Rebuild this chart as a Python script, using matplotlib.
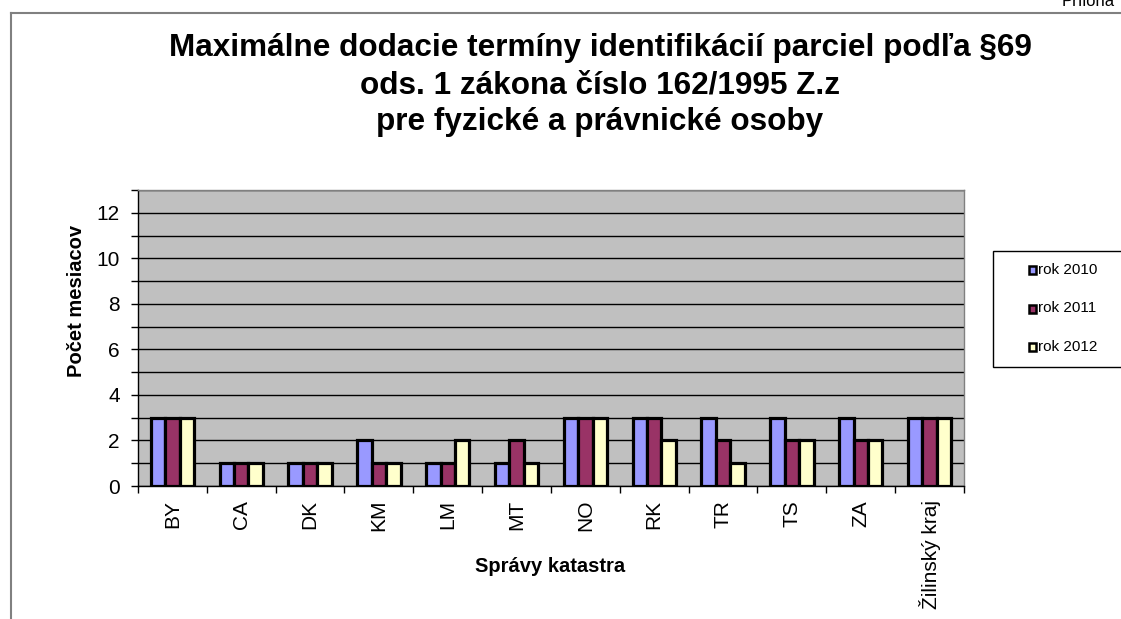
import matplotlib
matplotlib.use("Agg")
import matplotlib.pyplot as plt
import numpy as np
from matplotlib.patches import Rectangle
from matplotlib.lines import Line2D

plt.rcParams['font.family'] = ['Liberation Sans', 'DejaVu Sans']

categories = ["BY", "CA", "DK", "KM", "LM", "MT", "NO", "RK", "TR", "TS", "ZA", "Žilinský kraj"]
rok_2010 = [3, 1, 1, 2, 1, 1, 3, 3, 3, 3, 3, 3]
rok_2011 = [3, 1, 1, 1, 1, 2, 3, 3, 2, 2, 2, 3]
rok_2012 = [3, 1, 1, 1, 2, 1, 3, 2, 1, 2, 2, 3]
series_names = ["rok 2010", "rok 2011", "rok 2012"]
colors = ["#9999FF", "#993366", "#FFFFCC"]

title = "Maximálne dodacie termíny identifikácií parciel podľa §69\nods. 1 zákona číslo 162/1995 Z.z\npre fyzické a právnické osoby"

fig = plt.figure(figsize=(11.21, 6.19), dpi=100)
W, H = 1121, 619
ax = fig.add_axes([138 / W, 1 - 486 / H, (964 - 138) / W, (486 - 190) / H])
ax.set_facecolor("#C0C0C0")

x = np.arange(len(categories))
bw = 0.21
for i, (vals, c) in enumerate(zip([rok_2010, rok_2011, rok_2012], colors)):
    ax.bar(x + (i - 1) * bw, vals, width=bw, color=c, edgecolor="black", linewidth=2.3, zorder=3)

ax.set_xlim(-0.5, len(categories) - 0.5)
ax.set_ylim(0, 13)
ax.set_yticks(range(0, 13, 2))
ax.set_yticks(range(0, 14), minor=True)
ax.yaxis.grid(True, which="both", color="black", linewidth=1, zorder=1)
ax.tick_params(axis="y", which="both", direction="out", length=5, width=1, labelsize=15, pad=8)
ax.set_xticks(np.arange(-0.5, len(categories), 1.0))
ax.set_xticklabels([])
ax.set_xticks(x, minor=True)
ax.set_xticklabels(categories, minor=True, rotation=90, fontsize=15)
ax.tick_params(axis="x", which="major", direction="out", length=5, width=1)
ax.tick_params(axis="x", which="minor", length=0, pad=10)
for s in ax.spines.values():
    s.set_color("#808080")
    s.set_linewidth(1)
ax.spines["bottom"].set_color("black")
ax.spines["left"].set_color("black")

fig.text(76 / W, 1 - 301 / H, "Počet mesiacov", fontsize=14.5, fontweight="bold", ha="center", va="center", rotation=90)
fig.text(550 / W, 1 - 566 / H, "Správy katastra", fontsize=14.5, fontweight="bold", ha="center", va="center")

fig.text(600 / W, 1 - 85 / H, title, fontsize=22.7, fontweight="bold", ha="center", va="center", linespacing=1.3)

# outer frame lines
fig.add_artist(Line2D([11 / W, 11 / W], [0, 1 - 13 / H], color="#808080", linewidth=1.5, transform=fig.transFigure))
fig.add_artist(Line2D([11 / W, 1], [1 - 13 / H, 1 - 13 / H], color="#808080", linewidth=1.5, transform=fig.transFigure))
fig.text(1062 / W, 1 - 1 / H, "Príloha", fontsize=12, ha="left", va="center")

# legend (drawn as a box partly beyond the right edge, like the reference)
fig.add_artist(Rectangle((993 / W, 1 - 367 / H), 140 / W, 116 / H, facecolor="white", edgecolor="black",
                         linewidth=1, transform=fig.transFigure))
for k, (name, c) in enumerate(zip(series_names, colors)):
    yc = 270 + k * 38.5
    fig.add_artist(Rectangle((1029 / W, 1 - (yc + 4) / H), 7 / W, 8 / H, facecolor=c, edgecolor="black",
                             linewidth=1.8, transform=fig.transFigure))
    fig.text(1038 / W, 1 - yc / H, name, fontsize=11, ha="left", va="center")

fig.savefig("out.png", dpi=100)
